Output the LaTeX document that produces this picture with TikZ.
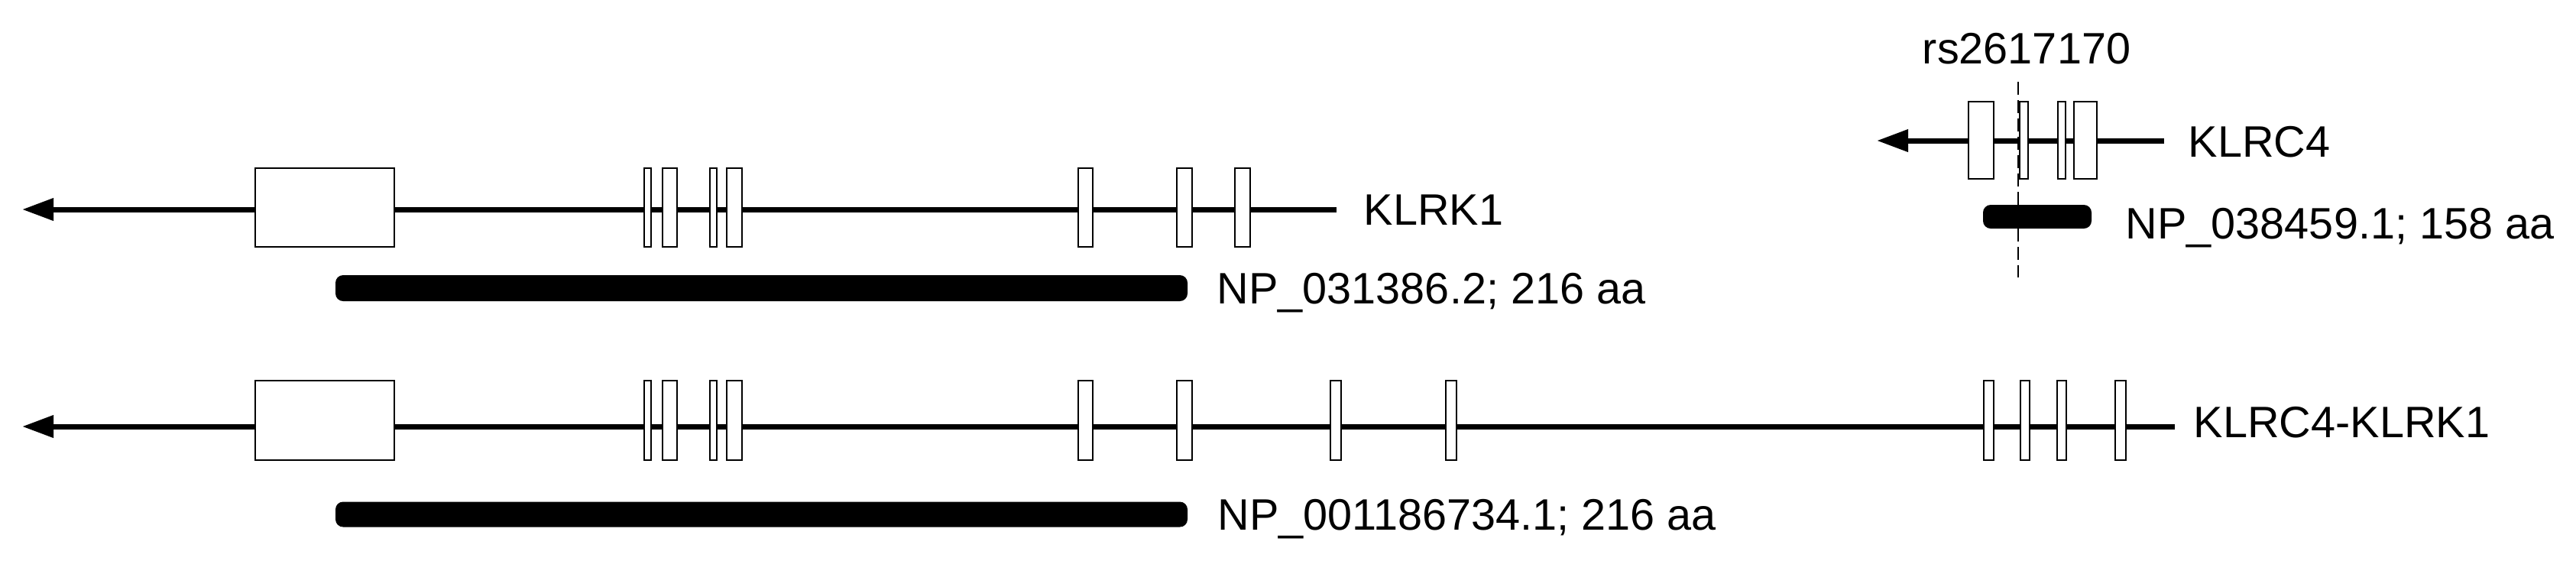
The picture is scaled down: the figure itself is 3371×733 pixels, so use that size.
\documentclass[tikz,border=0pt]{standalone}
\usepackage{fontspec}
\setmainfont{Liberation Sans}
\usetikzlibrary{arrows.meta}
\tikzset{
  intron/.style={line width=1.75pt, -{Triangle[length=10.25pt,width=7pt]}},
  exonbox/.style={draw, fill=white, line width=0.7pt, inner sep=0pt, outer sep=0pt},
  protbar/.style={fill=black, rounded corners=2.5pt, inner sep=0pt, outer sep=0pt},
  lbl/.style={anchor=base west, inner sep=0pt, font=\fontsize{14.4}{17}\selectfont},
  snpline/.style={line width=0.5pt, dash pattern=on 4.25pt off 1.75pt}
}
\newcommand\exonat[5]{\node[exonbox, minimum width={(#3-#2)*0.25pt}, minimum height={#5*0.25pt}] (#1) at ({(#2+#3)/2},#4) {};}
\newcommand\barat[5]{\node[protbar, minimum width={(#3-#2)*0.25pt}, minimum height={#5*0.25pt}] (#1) at ({(#2+#3)/2},#4) {};}
\begin{document}
\begin{tikzpicture}[x=0.25pt, y=-0.25pt]
\useasboundingbox (0,0) rectangle (3371,733);
% ---- KLRK1 ----
\coordinate (r1end) at (1749,274);
\coordinate (r1tip) at (29,274);
\draw[intron] (r1end) -- (r1tip);
\exonat{a1}{334}{516}{271.5}{103}
\exonat{a2}{843}{852}{271.5}{103}
\exonat{a3}{867}{886}{271.5}{103}
\exonat{a4}{929}{938}{271.5}{103}
\exonat{a5}{951}{971}{271.5}{103}
\exonat{a6}{1411}{1430}{271.5}{103}
\exonat{a7}{1540}{1560}{271.5}{103}
\exonat{a8}{1616}{1636}{271.5}{103}
\node[lbl] (klrk1) at (1784,294) {KLRK1};
\barat{p1}{439}{1554}{377}{34}
\node[lbl] (np1) at (1592,397) {NP\_031386.2; 216 aa};
% ---- KLRC4-KLRK1 ----
\coordinate (r2end) at (2846,558);
\coordinate (r2tip) at (29,558);
\draw[intron] (r2end) -- (r2tip);
\exonat{b1}{334}{516}{550}{104}
\exonat{b2}{843}{852}{550}{104}
\exonat{b3}{867}{886}{550}{104}
\exonat{b4}{929}{938}{550}{104}
\exonat{b5}{951}{971}{550}{104}
\exonat{b6}{1411}{1430}{550}{104}
\exonat{b7}{1540}{1560}{550}{104}
\exonat{b8}{1741}{1755}{550}{104}
\exonat{b9}{1892}{1906}{550}{104}
\exonat{b10}{2596}{2609}{550}{104}
\exonat{b11}{2644}{2656}{550}{104}
\exonat{b12}{2692}{2704}{550}{104}
\exonat{b13}{2768}{2782}{550}{104}
\node[lbl] (fusion) at (2870,572) {KLRC4-KLRK1};
\barat{p2}{439}{1554}{673}{33}
\node[lbl] (np2) at (1593,693) {NP\_001186734.1; 216 aa};
% ---- KLRC4 ----
\coordinate (r3end) at (2832,184);
\coordinate (r3tip) at (2456,184);
\draw[intron] (r3end) -- (r3tip);
\exonat{c1}{2576}{2609}{183.5}{101}
\exonat{c2}{2643}{2654}{183.5}{101}
\exonat{c3}{2693}{2703}{183.5}{101}
\exonat{c4}{2714}{2744}{183.5}{101}
\node[lbl] (klrc4) at (2863,205) {KLRC4};
\barat{p3}{2595}{2737}{283.5}{31}
\node[lbl] (np3) at (2781,312) {NP\_038459.1; 158 aa};
% ---- SNP ----
\node[lbl, anchor=base] (snp) at (2652,83) {rs2617170};
\coordinate (snptop) at (2641,107);
\coordinate (snpbot) at (2641,363);
\draw[snpline] (snptop) -- (snpbot);
\end{tikzpicture}
\end{document}
